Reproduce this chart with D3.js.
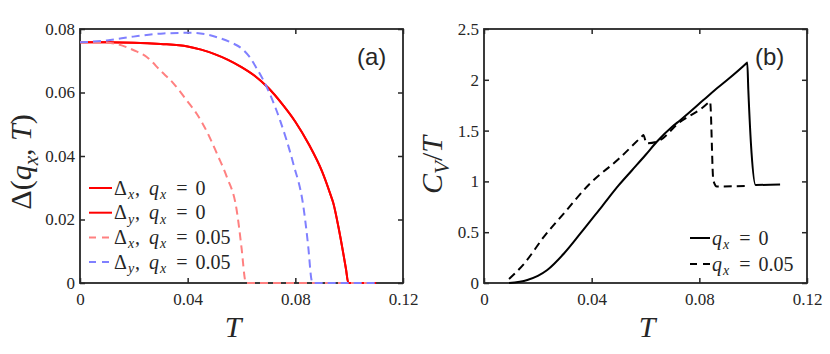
<!DOCTYPE html>
<html>
<head>
<meta charset="utf-8">
<script src="https://cdn.jsdelivr.net/npm/d3@7"></script>
<style>
  body { margin: 0; background: #fff; }
  text { fill: #262626; }
</style>
</head>
<body>
<svg id="chart"></svg>
<script>

// panel (a): gap vs T
var tA_q0  = [0, 0.01, 0.02, 0.03, 0.04, 0.045, 0.05, 0.055, 0.06, 0.065, 0.07, 0.075, 0.08, 0.085, 0.09, 0.093, 0.0941, 0.096, 0.0978, 0.0988, 0.0997, 0.11];
var dx_q0  = [0.0758, 0.0758, 0.0757, 0.0753, 0.0745, 0.0735, 0.0721, 0.0703, 0.0680, 0.0652, 0.0614, 0.0565, 0.0508, 0.0437, 0.0350, 0.0280, 0.0252, 0.0177, 0.0094, 0.0045, 0, 0];
var dy_q0  = [0.0758, 0.0758, 0.0757, 0.0753, 0.0745, 0.0735, 0.0721, 0.0703, 0.0680, 0.0652, 0.0614, 0.0565, 0.0508, 0.0437, 0.0350, 0.0280, 0.0252, 0.0177, 0.0094, 0.0045, 0, 0];

var tA_x05 = [0, 0.005, 0.01, 0.0136, 0.02, 0.0248, 0.03, 0.0347, 0.04, 0.0433, 0.048, 0.051, 0.0545, 0.0582, 0.0601, 0.0613, 0.0616, 0.11];
var dx_q05 = [0.0758, 0.0758, 0.0757, 0.0753, 0.0733, 0.0712, 0.0668, 0.0629, 0.0571, 0.0534, 0.0462, 0.0405, 0.0335, 0.0230, 0.0104, 0.0010, 0, 0];

var tA_y05 = [0, 0.01, 0.0198, 0.031, 0.0409, 0.047, 0.052, 0.056, 0.0607, 0.063, 0.0655, 0.0681, 0.0743, 0.0792, 0.083, 0.0848, 0.086, 0.0864, 0.11];
var dy_q05 = [0.0758, 0.0764, 0.0776, 0.0786, 0.0788, 0.0783, 0.0771, 0.0758, 0.0734, 0.0712, 0.0678, 0.0639, 0.0513, 0.0377, 0.0240, 0.0114, 0.0010, 0, 0];

// panel (b): C_V/T vs T
var tB_q0  = [0.0093, 0.0161, 0.02, 0.0235, 0.0297, 0.0359, 0.044, 0.05, 0.055, 0.06, 0.0642, 0.07, 0.0728, 0.0815, 0.0858, 0.09, 0.0976, 0.0978, 0.0982, 0.0994, 0.1009, 0.11];
var cv_q0  = [0, 0.03, 0.07, 0.128, 0.29, 0.49, 0.76, 0.96, 1.11, 1.26, 1.39, 1.54, 1.60, 1.80, 1.90, 1.99, 2.165, 2.17, 1.90, 1.28, 0.965, 0.97];

var tB_q05 = [0.0093, 0.0149, 0.0223, 0.0297, 0.0394, 0.05, 0.059, 0.0592, 0.0604, 0.0642, 0.0728, 0.0809, 0.0838, 0.084, 0.0852, 0.0865, 0.098];
var cv_q05 = [0.04, 0.19, 0.456, 0.686, 0.98, 1.22, 1.452, 1.457, 1.375, 1.39, 1.585, 1.72, 1.782, 1.785, 1.01, 0.95, 0.955];

// ticks
var xTicks  = [0, 0.04, 0.08, 0.12];
var yTicksA = [0, 0.02, 0.04, 0.06, 0.08];
var yTicksB = [0, 0.5, 1, 1.5, 2, 2.5];

// find which installed font actually resolves (measure against monospace)
function pickFont(cands, generic) {
    var ctx = document.createElement('canvas').getContext('2d');
    var s = 'Tq0.05 x(a)WWiil';
    ctx.font = '40px monospace';
    var base = ctx.measureText(s).width;
    for (var i = 0; i < cands.length; i++) {
        ctx.font = '40px "' + cands[i] + '", monospace';
        if (Math.abs(ctx.measureText(s).width - base) > 0.5) return '"' + cands[i] + '", ' + generic;
    }
    return generic;
}
var serif = pickFont(['Liberation Serif', 'Times New Roman', 'Tinos', 'Nimbus Roman', 'FreeSerif', 'DejaVu Serif', 'Noto Serif'], 'serif');
var sans  = pickFont(['Liberation Sans', 'Arial', 'Helvetica'], 'sans-serif');
var axisColor = '#262626';

var svg = d3.select('#chart')
    .attr('width', 830)
    .attr('height', 354);

svg.append('rect').attr('width', 830).attr('height', 354).attr('fill', '#fff');

// writes a bit of "latex": parts are [text, italic, subscript, extra dx]
function mathText(g, x, y, size, parts) {
    var t = g.append('text')
        .attr('x', x)
        .attr('y', y)
        .style('font-family', serif)
        .style('font-size', size + 'px')
        .style('white-space', 'pre')
        .attr('fill', '#000');
    var shift = 0;
    parts.forEach(function(p) {
        var want = p[2] ? size * 0.22 : 0;
        var s = t.append('tspan').text(p[0]).attr('dy', want - shift);
        shift = want;
        if (p[3]) s.attr('dx', p[3]);
        if (p[1]) s.style('font-style', 'italic');
        if (p[2]) s.style('font-size', (size * 0.7) + 'px');
    });
    return t;
}

function makePanel(left, yDomain, yTicks, yFmt) {
    var top = 29, w = 323, h = 254;
    var g = svg.append('g');
    var x = d3.scaleLinear().domain([0, 0.12]).range([left, left + w]);
    var y = d3.scaleLinear().domain(yDomain).range([top + h, top]);

    g.append('rect')
        .attr('x', left).attr('y', top)
        .attr('width', w).attr('height', h)
        .attr('fill', 'none')
        .attr('stroke', axisColor)
        .attr('stroke-width', 1.8);

    var axes = [
        d3.axisBottom(x).tickValues(xTicks).tickFormat(function(d) { return d === 0 ? '0' : d3.format('.2f')(d); }).tickSize(-5).tickPadding(9.5),
        d3.axisTop(x).tickValues(xTicks).tickFormat('').tickSize(-5),
        d3.axisLeft(y).tickValues(yTicks).tickFormat(yFmt).tickSize(-5).tickPadding(5),
        d3.axisRight(y).tickValues(yTicks).tickFormat('').tickSize(-5)
    ];
    var shifts = ['translate(0,' + (top + h) + ')', 'translate(0,' + top + ')',
                  'translate(' + left + ',0)', 'translate(' + (left + w) + ',0)'];
    axes.forEach(function(a, i) {
        var ag = g.append('g').attr('transform', shifts[i]).call(a.tickSizeOuter(0));
        ag.select('.domain').remove();
        ag.selectAll('line').attr('stroke', axisColor).attr('stroke-width', 1.5);
        ag.selectAll('text')
            .attr('fill', axisColor)
            .style('font-family', serif)
            .style('font-size', '17px');
    });
    return { g: g, x: x, y: y };
}

function drawLine(p, ts, vs, color, dash, width) {
    var line = d3.line()
        .curve(d3.curveMonotoneX)
        .x(function(d) { return p.x(ts[d]); })
        .y(function(d) { return p.y(vs[d]); });
    p.g.append('path')
        .attr('d', line(d3.range(ts.length)))
        .attr('fill', 'none')
        .attr('stroke', color)
        .attr('stroke-width', width || 2)
        .attr('stroke-dasharray', dash)
        .attr('stroke-linejoin', 'round');
}

//  ---------- panel (a) ----------
var pa = makePanel(80, [0, 0.08], yTicksA, function(d) { return d === 0 ? '0' : d3.format('.2f')(d); });

drawLine(pa, tA_q0, dx_q0, '#ff0000', null);
drawLine(pa, tA_q0, dy_q0, '#ff0000', null);
drawLine(pa, tA_x05, dx_q05, '#ff8080', '8,5');
drawLine(pa, tA_y05, dy_q05, '#8080ff', '8,5');

var legA = [
    { c: '#ff0000', d: null,  sub: 'x', val: '0' },
    { c: '#ff0000', d: null,  sub: 'y', val: '0' },
    { c: '#ff8080', d: '7,6', sub: 'x', val: '0.05' },
    { c: '#8080ff', d: '7,6', sub: 'y', val: '0.05' }
];
legA.forEach(function(e, i) {
    var yy = 188 + i * 24.7;
    pa.g.append('line')
        .attr('x1', 89).attr('x2', 112).attr('y1', yy).attr('y2', yy)
        .attr('stroke', e.c).attr('stroke-width', 2).attr('stroke-dasharray', e.d);
    mathText(pa.g, 114, yy + 6.5, 20, [['Δ'], [e.sub, 1, 1, 1], [',', 0, 0, 1], ['q', 1, 0, 9],
        ['x', 1, 1, 1], ['=', 0, 0, 10], [e.val, 0, 0, 8]]);
});

pa.g.append('text').attr('x', 357).attr('y', 65)
    .style('font-family', sans).style('font-size', '24px')
    .attr('fill', '#000').text('(a)');

mathText(svg, 233, 337, 30, [['T', 1]]).attr('text-anchor', 'middle');
mathText(svg, 0, 0, 30, [['Δ('], ['q', 1], ['x', 1, 1], [', '], ['T', 1], [')']])
    .attr('text-anchor', 'middle')
    .attr('transform', 'translate(31,162) rotate(-90)');

//  ---------- panel (b) ----------
var pb = makePanel(484, [0, 2.5], yTicksB, function(d) { return String(d); });

drawLine(pb, tB_q0, cv_q0, '#000', null);
drawLine(pb, tB_q05, cv_q05, '#000', '8,5');

var legB = [
    { d: null,  val: '0' },
    { d: '7,6', val: '0.05' }
];
legB.forEach(function(e, i) {
    var yy = 238 + i * 26;
    pb.g.append('line')
        .attr('x1', 690).attr('x2', 710).attr('y1', yy).attr('y2', yy)
        .attr('stroke', '#000').attr('stroke-width', 2).attr('stroke-dasharray', e.d);
    mathText(pb.g, 712, yy + 6.5, 20, [['q', 1], ['x', 1, 1, 1], ['=', 0, 0, 10], [e.val, 0, 0, 8]]);
});

pb.g.append('text').attr('x', 755).attr('y', 65)
    .style('font-family', sans).style('font-size', '24px')
    .attr('fill', '#000').text('(b)');

mathText(svg, 647, 337, 30, [['T', 1]]).attr('text-anchor', 'middle');
mathText(svg, 0, 0, 30, [['C', 1], ['V', 1, 1], ['/'], ['T', 1]])
    .attr('text-anchor', 'middle')
    .attr('transform', 'translate(442,165) rotate(-90)');

</script>
</body>
</html>
